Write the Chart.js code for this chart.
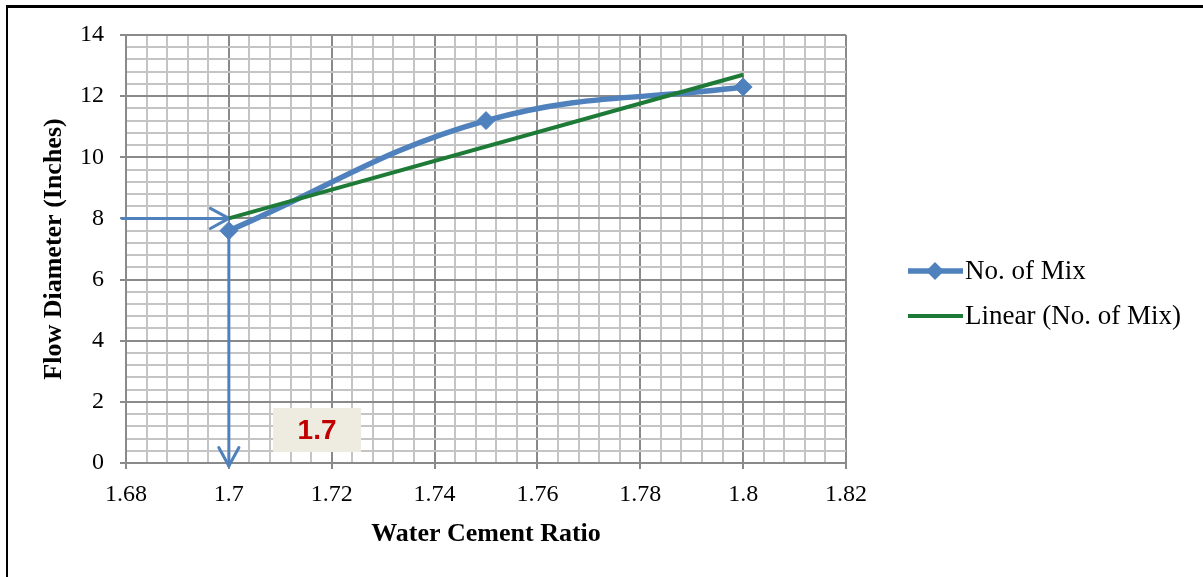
<!DOCTYPE html>
<html>
<head>
<meta charset="utf-8">
<script src="https://cdn.jsdelivr.net/npm/chart.js@4.4.1/dist/chart.umd.min.js"></script>
<style>
  html, body { margin: 0; padding: 0; background: #fff; }
  #wrap { position: relative; width: 1203px; height: 577px; overflow: hidden; }
  #flowChart { display: block; }
  #frame { position: absolute; left: 6px; top: 5px; right: 0; bottom: 0; border-top: 3px solid #000; border-left: 2px solid #000; pointer-events: none; }
</style>
</head>
<body>
<div id="wrap"><canvas id="flowChart" width="1203" height="577"></canvas><div id="frame"></div></div>
<script>
// ── Flow diameter vs water cement ratio ──
const wcRatio = [1.7, 1.75, 1.8];
const flowDiameter = [7.6, 11.2, 12.3];
const trendRatio = [1.7, 1.8];
const trendDiameter = [8.0, 12.7];
const xTickLabels = ['1.68','1.7','1.72','1.74','1.76','1.78','1.8','1.82'];
const yTickLabels = ['0','2','4','6','8','10','12','14'];
const readOffDiameter = 8;     // horizontal arrow level
const readOffRatio = 1.7;      // vertical arrow position
const noteText = '1.7';

const BLUE = '#4f81bd', GREEN = '#1e7b37', MAJOR = '#8a8a8a', MINOR = '#c4c4c4';
const serif = '"Liberation Serif", "Times New Roman", serif';

const gridColor = c => (c.index % 5 === 0 ? MAJOR : MINOR);
const tickColor = c => (c.index % 5 === 0 ? MAJOR : 'rgba(0,0,0,0)');

function arrow(ctx, x1, y1, x2, y2) {
  const a = Math.atan2(y2 - y1, x2 - x1), len = 21, spread = 0.5;
  ctx.beginPath(); ctx.moveTo(x1, y1); ctx.lineTo(x2, y2); ctx.stroke();
  ctx.beginPath();
  ctx.moveTo(x2 - len * Math.cos(a - spread), y2 - len * Math.sin(a - spread));
  ctx.lineTo(x2, y2);
  ctx.lineTo(x2 - len * Math.cos(a + spread), y2 - len * Math.sin(a + spread));
  ctx.stroke();
}

// read-off arrows + note box
const readOff = {
  id: 'readOff',
  beforeDatasetsDraw(chart) {
    const { ctx, scales: { x, y } } = chart;
    ctx.save();
    ctx.strokeStyle = BLUE; ctx.lineWidth = 3; ctx.lineCap = 'round'; ctx.lineJoin = 'round';
    arrow(ctx, x.left - 4, y.getPixelForValue(readOffDiameter), x.getPixelForValue(readOffRatio), y.getPixelForValue(readOffDiameter));
    arrow(ctx, x.getPixelForValue(readOffRatio), y.getPixelForValue(flowDiameter[0]), x.getPixelForValue(readOffRatio), y.getPixelForValue(0) + 3);
    ctx.restore();
  },
  afterDatasetsDraw(chart) {
    const { ctx, scales: { x, y } } = chart;
    const bx = x.getPixelForValue(1.7086), by = y.getPixelForValue(1.8);
    ctx.save();
    ctx.fillStyle = '#eeece1';
    ctx.fillRect(bx, by, 88, 44);
    ctx.fillStyle = '#c00000';
    ctx.font = 'bold 28px "Liberation Sans", Arial, sans-serif';
    ctx.textAlign = 'center'; ctx.textBaseline = 'middle';
    ctx.fillText(noteText, bx + 44, by + 23);
    ctx.restore();
  }
};

// Excel style legend on the right
const sideLegend = {
  id: 'sideLegend',
  afterDraw(chart) {
    const { ctx } = chart;
    const rows = [{ ds: chart.data.datasets[0], y: 271 }, { ds: chart.data.datasets[1], y: 316 }];
    ctx.save();
    rows.forEach(r => {
      ctx.strokeStyle = r.ds.borderColor; ctx.lineWidth = r.ds.borderWidth;
      ctx.beginPath(); ctx.moveTo(908, r.y); ctx.lineTo(963, r.y); ctx.stroke();
      if (r.ds.pointRadius) {
        ctx.fillStyle = r.ds.borderColor;
        ctx.beginPath();
        ctx.moveTo(935, r.y - 9); ctx.lineTo(944, r.y); ctx.lineTo(935, r.y + 9); ctx.lineTo(926, r.y);
        ctx.closePath(); ctx.fill();
      }
      ctx.fillStyle = '#000';
      ctx.font = '27px ' + serif;
      ctx.textBaseline = 'middle';
      ctx.fillText(r.ds.label, 965, r.y + 1);
    });
    ctx.restore();
  }
};

new Chart(document.getElementById('flowChart').getContext('2d'), {
  type: 'scatter',
  data: {
    datasets: [
      { label: 'No. of Mix', data: wcRatio.map((v, i) => ({ x: v, y: flowDiameter[i] })), showLine: true, tension: 0.4,
        borderColor: BLUE, backgroundColor: BLUE, borderWidth: 5.5, pointStyle: 'rectRot', pointRadius: 9, pointBorderWidth: 1, order: 1 },
      { label: 'Linear (No. of Mix)', data: trendRatio.map((v, i) => ({ x: v, y: trendDiameter[i] })), showLine: true,
        borderColor: GREEN, backgroundColor: GREEN, borderWidth: 4, pointRadius: 0, order: 0 }
    ]
  },
  options: {
    responsive: false, animation: false, devicePixelRatio: 1,
    layout: { padding: { left: 0, top: 35, right: 357, bottom: 0 } },
    plugins: { legend: { display: false }, tooltip: { enabled: false } },
    scales: {
      x: {
        type: 'linear', min: 1.68, max: 1.82,
        afterBuildTicks: s => { s.ticks = []; for (let i = 0; i <= 35; i++) s.ticks.push({ value: +(1.68 + i * 0.004).toFixed(3) }); },
        afterFit: s => { s.height = 114; },
        grid: { color: gridColor, lineWidth: 2, tickColor: tickColor, tickWidth: 2, tickLength: 6 },
        border: { color: MAJOR, width: 2 },
        ticks: { autoSkip: false, maxRotation: 0, padding: 11, color: '#000', font: { family: serif, size: 24 },
          callback: (v, i) => (i % 5 === 0 ? xTickLabels[i / 5] : '') },
        title: { display: true, text: 'Water Cement Ratio', color: '#000', font: { family: serif, size: 26, weight: 'bold' }, padding: { top: 0, bottom: 27 } }
      },
      y: {
        min: 0, max: 14,
        afterBuildTicks: s => { s.ticks = []; for (let i = 0; i <= 35; i++) s.ticks.push({ value: +(i * 0.4).toFixed(1) }); },
        afterFit: s => { s.width = 126; },
        grid: { color: gridColor, lineWidth: 2, tickColor: tickColor, tickWidth: 2, tickLength: 6 },
        border: { color: MAJOR, width: 2 },
        ticks: { autoSkip: false, padding: 16, color: '#000', font: { family: serif, size: 24 },
          callback: (v, i) => (i % 5 === 0 ? yTickLabels[i / 5] : '') },
        title: { display: true, text: 'Flow Diameter (Inches)', color: '#000', font: { family: serif, size: 26, weight: 'bold' }, padding: { top: 39, bottom: 0 } }
      }
    }
  },
  plugins: [readOff, sideLegend]
});
</script>
</body>
</html>
